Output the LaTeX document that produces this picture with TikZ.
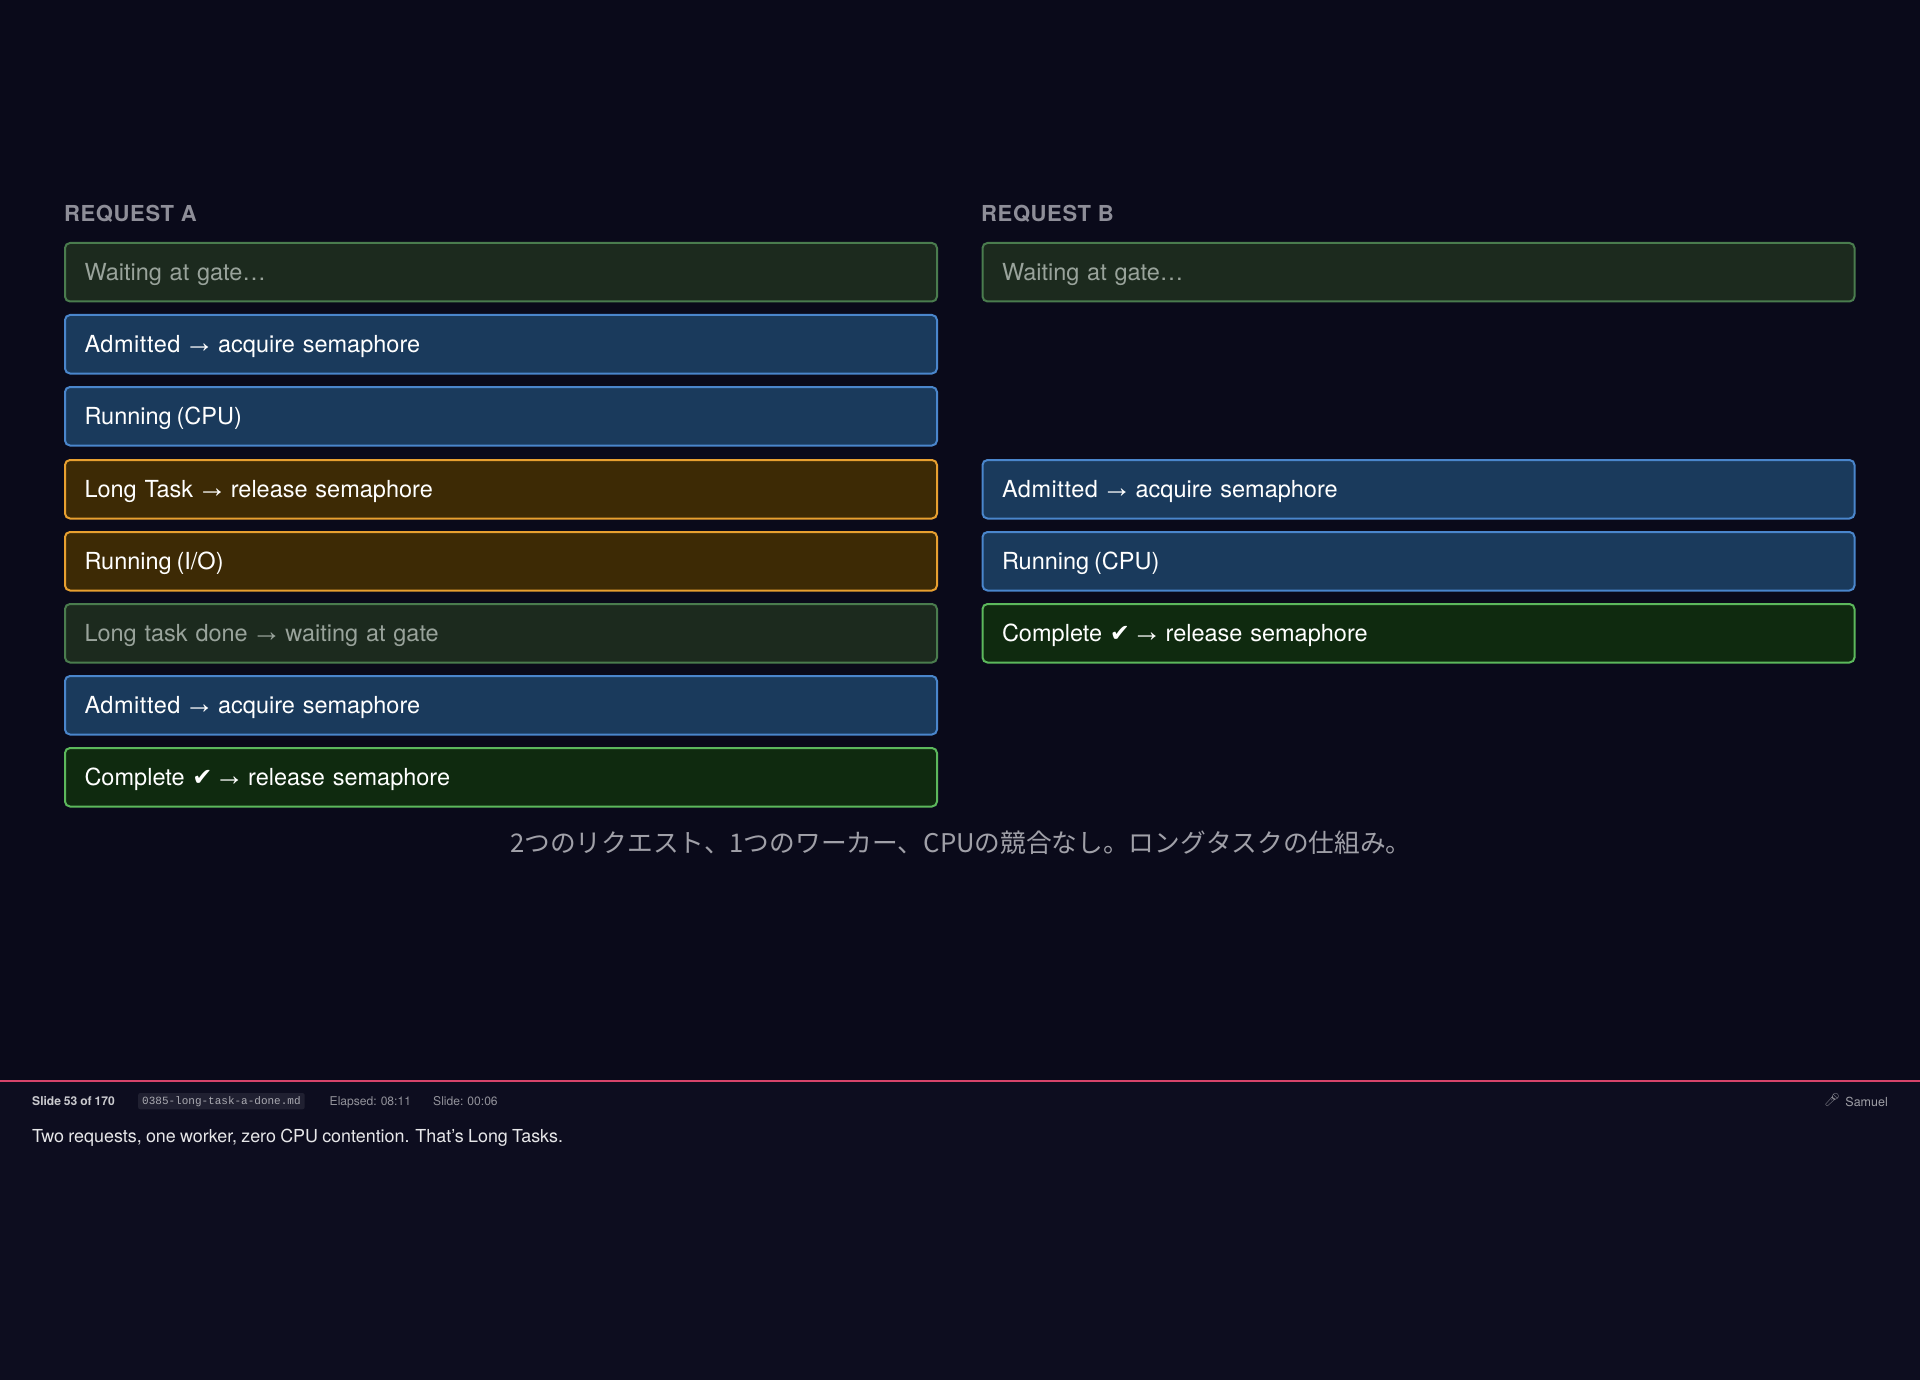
\documentclass[tikz,border=0pt]{standalone}
\usepackage{fontspec}
\setmainfont[WordSpace=0.85]{TeX Gyre Heros}
\newfontfamily\headf[LetterSpace=2.8]{TeX Gyre Heros}
\newfontfamily\admf[LetterSpace=2.3,WordSpace=0.85]{TeX Gyre Heros}
\newfontfamily\cjk{Noto Sans CJK JP}
\newfontfamily\symf{DejaVu Sans}
\newfontfamily\arrf{Liberation Sans}
\newfontfamily\emo{Noto Emoji}
\newfontfamily\codef{Liberation Mono}
\definecolor{pagebg}{HTML}{0A0A1A}
\definecolor{panelbg}{HTML}{0D0D1F}
\definecolor{pinkline}{HTML}{D6446A}
\definecolor{headc}{HTML}{8E8E98}
\definecolor{waitf}{HTML}{1C2A1E}
\definecolor{waitd}{HTML}{4A7C4E}
\definecolor{waitt}{HTML}{99A39B}
\definecolor{bluef}{HTML}{1A3A5C}
\definecolor{blued}{HTML}{4A86CC}
\definecolor{orangef}{HTML}{3D2A05}
\definecolor{oranged}{HTML}{E8A030}
\definecolor{greenf}{HTML}{0F2A0F}
\definecolor{greend}{HTML}{5CB85C}
\definecolor{capc}{HTML}{A0A0A8}
\newcommand{\arr}{\kern-4pt{\arrf\fontsize{30}{24}\selectfont →}\kern-4pt}
\newcommand{\chk}{{\symf\fontsize{24}{24}\selectfont ✔}\kern-2pt}
\newcommand{\adm}{{\admf Admitted}}
\tikzset{
  box/.style={anchor=north west,rounded corners=5pt,line width=2pt,minimum height=58.5pt,
    text width=833pt,inner xsep=19.5pt,inner ysep=0pt,align=left,text height=16.5pt,text depth=0pt,
    font=\fontsize{23.5}{28}\selectfont},
  wait/.style={box,fill=waitf,draw=waitd,text=waitt},
  run/.style={box,fill=bluef,draw=blued,text=white},
  lng/.style={box,fill=orangef,draw=oranged,text=white},
  done/.style={box,fill=greenf,draw=greend,text=white},
  head/.style={anchor=base west,inner sep=0pt,text=headc,font=\headf\bfseries\fontsize{22}{26}\selectfont},
  foot/.style={anchor=base west,inner sep=0pt,font=\fontsize{12.1}{16}\selectfont},
}
\begin{document}
\begin{tikzpicture}[x=1pt,y=-1pt]
\useasboundingbox (0,0) rectangle (1920,1380);
\fill[pagebg] (0,0) rectangle (1920,1081);
\fill[panelbg] (0,1081) rectangle (1920,1380);
\draw[pinkline,line width=2pt] (0,1081) -- (1920,1081);
\node[head] (ha) at (64,221.5) {REQUEST A};
\node[head] (hb) at (981,221.5) {REQUEST B};
\node[wait] (a1) at (64,242) {Waiting at gate…};
\node[run]  (a2) at (64,314) {\adm{} \arr{} acquire semaphore};
\node[run]  (a3) at (64,386) {Running\kern-3pt{} (CPU)};
\node[lng]  (a4) at (64,459) {Long Task \arr{} release semaphore};
\node[lng]  (a5) at (64,531) {Running\kern-3pt{} (I/O)};
\node[wait] (a6) at (64,603) {Long task done \arr{} waiting at gate};
\node[run]  (a7) at (64,675) {\adm{} \arr{} acquire semaphore};
\node[done] (a8) at (64,747) {Complete \chk{} \arr{} release semaphore};
\node[wait] (b1) at (981.5,242) {Waiting at gate…};
\node[run]  (b2) at (981.5,459) {\adm{} \arr{} acquire semaphore};
\node[run]  (b3) at (981.5,531) {Running\kern-3pt{} (CPU)};
\node[done] (b4) at (981.5,603) {Complete \chk{} \arr{} release semaphore};
\node[anchor=base,inner sep=0pt,text=capc,font=\cjk\fontsize{25.7}{30}\selectfont] (cap) at (961,852) {2つのリクエスト、1つのワーカー、CPUの競合なし。ロングタスクの仕組み。};
\node[foot,font=\bfseries\fontsize{12.1}{16}\selectfont,text=white!78!panelbg] (s1) at (32,1105) {Slide 53 of 170};
\node[anchor=base west,fill=white!8!panelbg,rounded corners=2pt,inner xsep=4pt,inner ysep=3pt,text=white!65!panelbg,font=\codef\fontsize{11}{12}\selectfont] (s2) at (138,1104) {0385-long-task-a-done.md};
\node[foot,text=white!55!panelbg] (s3) at (329.5,1105) {Elapsed: 08:11};
\node[foot,text=white!55!panelbg] (s4) at (433,1105) {Slide: 00:06};
\node[foot,anchor=base east,text=white!60!panelbg,font=\fontsize{12.5}{16}\selectfont] (s5) at (1888,1106) {Samuel};
\node[anchor=center,inner sep=0pt,text=white!50!panelbg,font=\emo\fontsize{13}{14}\selectfont] (mic) at (1832,1100) {🎤};
\node[anchor=base west,inner sep=0pt,text=white!90!panelbg,font=\fontsize{17.9}{22}\selectfont] (note) at (32,1142) {Two requests, one worker, zero CPU contention. That's Long Tasks.};
\end{tikzpicture}
\end{document}
